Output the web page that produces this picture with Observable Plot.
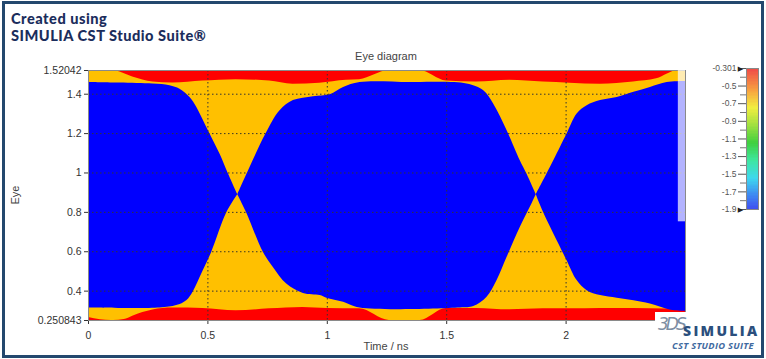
<!DOCTYPE html>
<html><head><meta charset="utf-8">
<script src="https://cdn.jsdelivr.net/npm/d3@7"></script>
<script src="https://cdn.jsdelivr.net/npm/@observablehq/plot@0.6"></script>
<style>
html,body{margin:0;padding:0;background:#fff;}
#root{position:relative;width:766px;height:359px;overflow:hidden;background:#fff;font-family:"Liberation Sans",Arial,sans-serif;}
#root svg{position:absolute;overflow:visible;}
.abs{position:absolute;white-space:nowrap;}
#border{left:2px;top:1px;width:762px;height:357px;border:3px solid #23486e;box-sizing:border-box;}
#title{left:11px;top:11px;font-family:Lato,"Open Sans",sans-serif;font-weight:900;font-size:14.6px;letter-spacing:0.5px;line-height:16.5px;color:#1b2d5c;}
#ptitle{left:336px;width:100px;top:50px;text-align:center;font-size:11px;color:#444;}
#xlab{left:336px;width:100px;top:340px;text-align:center;font-size:11px;color:#444;}
#ylab{left:-5px;top:189px;width:40px;text-align:center;font-size:11px;color:#444;transform:rotate(-90deg);}
#logobox{left:655px;top:312px;width:106px;height:43px;background:#fff;}
#logo3ds{left:658px;top:314px;font-family:"DejaVu Sans",sans-serif;font-style:italic;font-size:17px;color:#7d8ea3;letter-spacing:-3px;}
#logosim{left:683px;top:321px;font-family:"Open Sans",sans-serif;font-weight:800;font-size:14px;letter-spacing:2.3px;color:#2b4f7d;}
#logocst{left:672px;top:339px;font-family:"Open Sans",sans-serif;font-weight:700;font-style:italic;font-size:9.3px;letter-spacing:0.3px;color:#3f6aa0;}
</style></head>
<body><div id="root"></div>
<script>
// ---- data ----
const xDomain = [0, 2.5];
const yDomain = [0.250843, 1.52042];
const xTicks = [0, 0.5, 1, 1.5, 2];
const yTicks = [0.250843, 0.4, 0.6, 0.8, 1, 1.2, 1.4, 1.52042];
const xGrid = [0.5, 1, 1.5, 2];
const yGrid = [0.4, 0.6, 0.8, 1, 1.2, 1.4];

// eye openings (low-density region), boundaries as [time, level]
const eye1Upper = [[0,1.462],[0.129,1.459],[0.268,1.454],[0.339,1.446],[0.381,1.428],[0.423,1.386],[0.451,1.336],[0.486,1.251],[0.514,1.183],[0.549,1.098],[0.584,0.997],[0.623,0.892]];
const eye1Lower = [[0,0.317],[0.297,0.317],[0.367,0.329],[0.409,0.354],[0.437,0.40],[0.476,0.50],[0.514,0.60],[0.577,0.80],[0.623,0.892]];
const eye2Upper = [[0.623,0.892],[0.663,1.0],[0.741,1.2],[0.800,1.319],[0.856,1.370],[0.940,1.390],[1.010,1.400],[1.066,1.437],[1.135,1.462],[1.345,1.462],[1.583,1.454],[1.653,1.420],[1.695,1.352],[1.751,1.217],[1.806,1.065],[1.834,0.997],[1.873,0.892]];
const eye2Lower = [[0.623,0.892],[0.660,0.80],[0.730,0.60],[0.772,0.523],[0.828,0.439],[0.898,0.391],[0.968,0.380],[0.996,0.367],[1.066,0.346],[1.135,0.317],[1.555,0.317],[1.611,0.324],[1.667,0.371],[1.709,0.456],[1.751,0.574],[1.806,0.726],[1.848,0.828],[1.873,0.892]];
const eye3Upper = [[1.873,0.892],[1.918,0.997],[1.974,1.132],[2.002,1.2],[2.044,1.302],[2.086,1.344],[2.142,1.370],[2.212,1.386],[2.282,1.412],[2.351,1.437],[2.421,1.462],[2.5,1.467]];
const eye3Lower = [[1.873,0.892],[1.904,0.80],[1.974,0.625],[2.002,0.557],[2.044,0.456],[2.086,0.405],[2.142,0.380],[2.212,0.367],[2.282,0.354],[2.351,0.337],[2.438,0.305],[2.5,0.300]];

// high-density bands (top and bottom rails)
const redTop = [[0,1.5204],[0.10,1.5204],[0.185,1.488],[0.27,1.462],[0.353,1.457],[0.479,1.467],[0.618,1.474],[0.758,1.467],[0.856,1.451],[0.968,1.456],[1.08,1.471],[1.135,1.474],[1.261,1.5204],[1.387,1.5204],[1.499,1.467],[1.625,1.462],[1.764,1.471],[1.904,1.462],[2.016,1.456],[2.144,1.451],[2.282,1.462],[2.379,1.478],[2.47,1.5204],[2.5,1.5204]];
const redBottom = [[0,0.266],[0.05,0.255],[0.10,0.2508],[0.15,0.256],[0.185,0.273],[0.27,0.304],[0.353,0.314],[0.479,0.312],[0.618,0.300],[0.758,0.310],[0.898,0.317],[1.0,0.312],[1.135,0.310],[1.261,0.2508],[1.387,0.2508],[1.499,0.312],[1.625,0.312],[1.764,0.305],[1.904,0.310],[2.016,0.310],[2.144,0.312],[2.282,0.312],[2.42,0.309],[2.5,0.309]];

// translucent strip at the right edge
const overlayStrip = [{x1:2.47, x2:2.5, y1:0.752, y2:1.52042}];

// colour bar
const cbDomain = [-1.9, -0.301];
const cbStops = [-1.9, -1.75, -1.55, -1.35, -1.15, -0.95, -0.75, -0.55, -0.301];
const cbColors = ["#3f4ff0","#3f86f2","#3fd8ef","#3fe6a0","#3fcf3f","#a0e040","#f2ee40","#f7a040","#ef4848"];
const cbLabels = [-0.301, -0.5, -0.7, -0.9, -1.1, -1.3, -1.5, -1.7, -1.9];
const cbMinor = [-0.4, -0.6, -0.8, -1.0, -1.2, -1.4, -1.6, -1.8];
const cbEnds = [-0.301, -1.9];

// ---- build ----
const pts = a => a.map(([x, y]) => ({x, y}));
// polygon: for open-left eyes walk upper then lower reversed; for open-right eyes walk upper reversed then lower,
// so the straight plot-edge side is the implicit closing segment
const poly = (name, up, lo, openRight) => (openRight
  ? [...up.slice().reverse(), ...lo]
  : [...up, ...lo.slice().reverse()]).map(([x, y]) => ({x, y, eye: name}));
const eyes = [...poly("e1", eye1Upper, eye1Lower, false), ...poly("e2", eye2Upper, eye2Lower, false), ...poly("e3", eye3Upper, eye3Lower, true)];

const root = document.getElementById("root");

const main = Plot.plot({
  width: 766, height: 359,
  marginLeft: 88, marginRight: 81, marginTop: 70, marginBottom: 39,
  style: {fontFamily: "Liberation Sans, Arial, sans-serif", fontSize: "10.5px", color: "#333", background: "transparent"},
  x: {domain: xDomain, ticks: xTicks, tickFormat: d => String(d), tickSize: 4, tickPadding: 7, label: null},
  y: {domain: yDomain, ticks: yTicks, tickFormat: d => String(d), tickSize: 4, tickPadding: 3, label: null},
  marks: [
    Plot.frame({fill: "#ffc000", stroke: "none"}),
    Plot.areaY(pts(redTop), {x: "x", y1: "y", y2: yDomain[1], fill: "#ff0000", curve: "monotone-x", clip: true}),
    Plot.areaY(pts(redBottom), {x: "x", y1: yDomain[0], y2: "y", fill: "#ff0000", curve: "monotone-x", clip: true}),
    Plot.line(eyes, {x: "x", y: "y", z: "eye", fill: "#0000ff", stroke: "none", curve: "catmull-rom", clip: true}),
    Plot.ruleX(xGrid, {stroke: "#333", strokeDasharray: "1.5,2.5", strokeWidth: 1}),
    Plot.ruleY(yGrid, {stroke: "#333", strokeDasharray: "1.5,2.5", strokeWidth: 1}),
    Plot.frame({stroke: "#8a8a8a"}),
    Plot.rect(overlayStrip, {x1: "x1", x2: "x2", y1: "y1", y2: "y2", fill: "#fff", fillOpacity: 0.7})
  ]
});
main.style.left = "0px"; main.style.top = "0px";
root.appendChild(main);

const nBands = 100;
const bands = d3.range(nBands).map(i => ({
  a: cbDomain[0] + (cbDomain[1] - cbDomain[0]) * i / nBands,
  b: cbDomain[0] + (cbDomain[1] - cbDomain[0]) * (i + 1) / nBands
}));
const cb = Plot.plot({
  width: 76, height: 170,
  marginLeft: 56, marginRight: 8, marginTop: 13, marginBottom: 16,
  style: {fontFamily: "Liberation Sans, Arial, sans-serif", fontSize: "8.5px", color: "#555", background: "transparent"},
  y: {domain: cbDomain, ticks: cbLabels, tickFormat: d => String(d), tickSize: 8, tickPadding: 2, label: null},
  color: {type: "linear", domain: cbStops, range: cbColors},
  marks: [
    Plot.tickY(cbMinor, {y: d => d, dx: -6, stroke: "#777"}),
    Plot.rect(bands, {y1: "a", y2: "b", fill: d => (d.a + d.b) / 2, shapeRendering: "crispEdges"}),
    Plot.frame({stroke: "#888"}),
    Plot.text(cbEnds, {y: d => d, text: () => "▶", dx: -12, fontSize: 7, fill: "#222", fontFamily: "DejaVu Sans"})
  ]
});
cb.style.left = "690px"; cb.style.top = "55px";
root.appendChild(cb);

const addDiv = (id, html) => { const d = document.createElement("div"); d.id = id; d.className = "abs"; d.innerHTML = html; root.appendChild(d); };
addDiv("title", "Created using<br>SIMULIA CST Studio Suite®");
addDiv("ptitle", "Eye diagram");
addDiv("xlab", "Time / ns");
addDiv("ylab", "Eye");
addDiv("logobox", "");
addDiv("logo3ds", "3DS");
addDiv("logosim", "SIMULIA");
addDiv("logocst", "CST STUDIO SUITE");
addDiv("border", "");
</script>
</body></html>
